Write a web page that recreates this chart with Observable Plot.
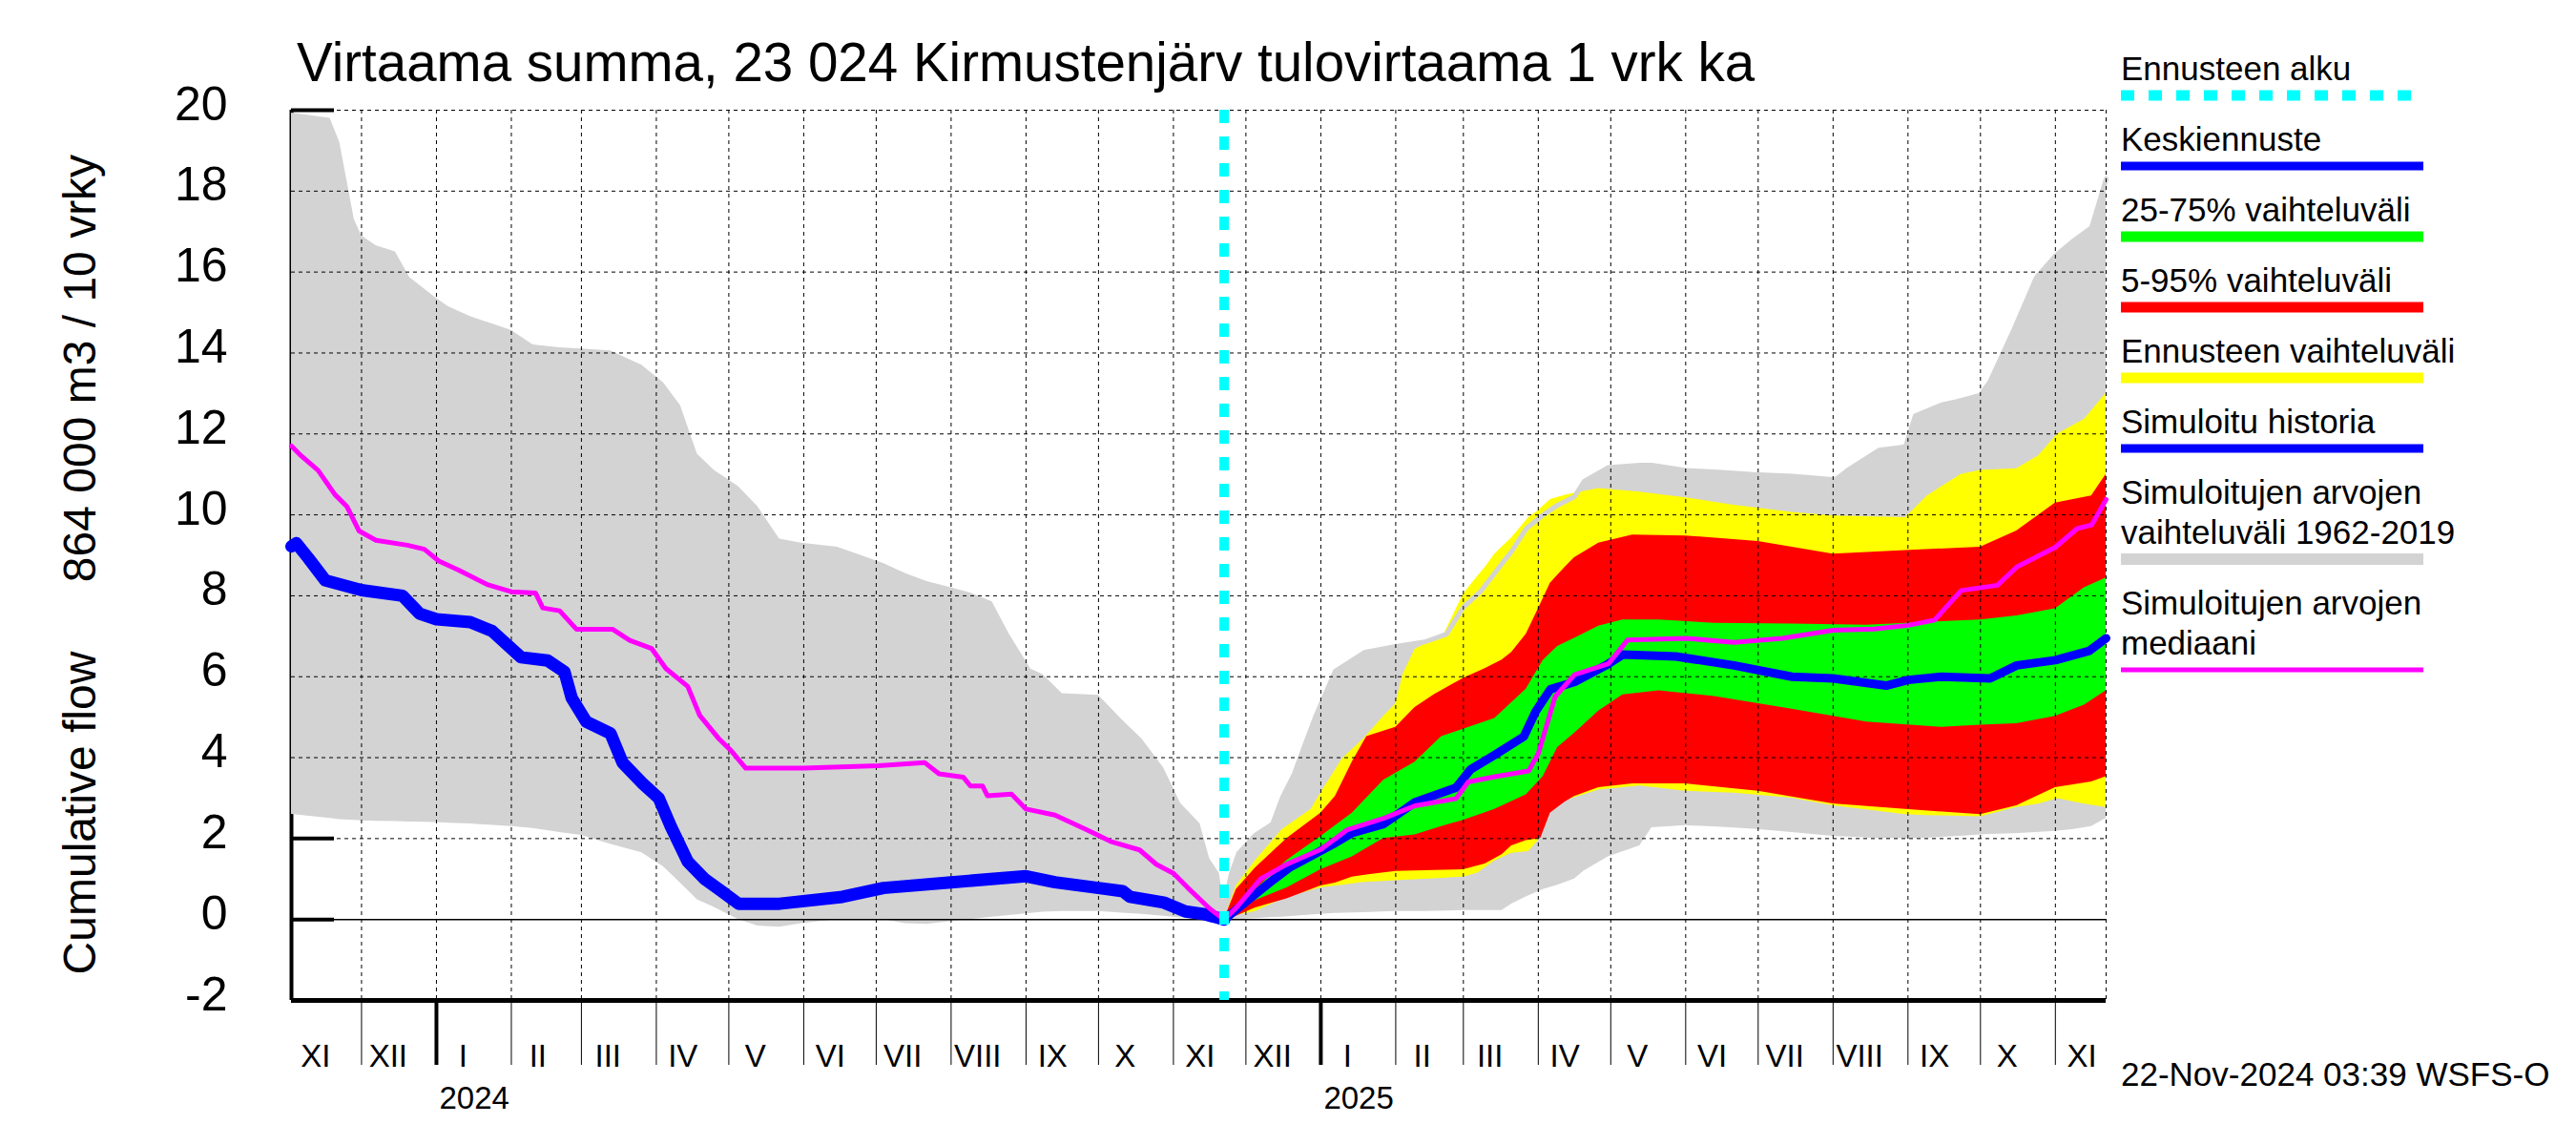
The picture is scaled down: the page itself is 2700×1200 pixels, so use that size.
<!DOCTYPE html>
<html><head><meta charset="utf-8">
<script src="https://cdn.jsdelivr.net/npm/d3@7"></script>
<script src="https://cdn.jsdelivr.net/npm/@observablehq/plot@0.6"></script>
<style>html,body{margin:0;padding:0;background:#fff}svg{display:block}</style>
</head><body><div id="chart"></div>
<script>
// ---------- DATA ----------
const domainStart = "2023-11-02";
const domainEnd = "2025-11-22";
const forecastStart = "2024-11-22";

// Simulated range 1962-2019: [date, min, max]
const greyBand = [
 ["2023-11-02",2.6,19.93],["2023-11-18",2.5,19.8],["2023-11-22",2.47,19.2],["2023-11-28",2.45,17.3],
 ["2023-12-01",2.44,16.9],["2023-12-07",2.43,16.65],["2023-12-15",2.42,16.5],["2023-12-21",2.41,15.86],
 ["2024-01-01",2.4,15.35],["2024-01-06",2.38,15.14],["2024-01-15",2.36,14.9],["2024-02-01",2.3,14.56],
 ["2024-02-10",2.25,14.2],["2024-02-21",2.15,14.13],["2024-03-01",2.08,14.1],["2024-03-13",1.86,14.05],
 ["2024-03-26",1.65,13.7],["2024-04-04",1.3,13.26],["2024-04-11",0.9,12.7],["2024-04-18",0.49,11.5],
 ["2024-04-25",0.3,11.1],["2024-05-05",0.0,10.7],["2024-05-13",-0.16,10.2],["2024-05-22",-0.19,9.4],
 ["2024-05-31",-0.1,9.3],["2024-06-15",0.0,9.2],["2024-07-04",0.0,8.8],["2024-07-13",-0.1,8.55],
 ["2024-07-22",-0.12,8.35],["2024-08-01",-0.05,8.2],["2024-08-09",0.0,8.07],["2024-08-18",0.06,7.85],
 ["2024-08-25",0.1,7.06],["2024-09-03",0.15,6.19],["2024-09-08",0.18,6.05],["2024-09-16",0.2,5.58],
 ["2024-10-01",0.2,5.54],["2024-10-11",0.16,4.92],["2024-10-19",0.13,4.46],["2024-10-28",0.08,3.74],
 ["2024-11-04",0.04,2.87],["2024-11-12",0.02,2.37],["2024-11-16",0.0,1.5],["2024-11-20",-0.02,1.14],
 ["2024-11-22",-0.05,0.35],
 ["2024-11-25",-0.03,1.14],["2024-11-28",0.0,1.64],["2024-12-05",0.02,2.09],["2024-12-12",0.05,2.36],
 ["2024-12-16",0.06,3.0],["2024-12-21",0.08,3.6],["2024-12-25",0.1,4.25],["2024-12-30",0.12,5.04],
 ["2025-01-07",0.15,6.14],["2025-01-19",0.17,6.6],["2025-02-01",0.2,6.75],["2025-02-13",0.2,6.86],
 ["2025-02-22",0.21,7.05],["2025-03-01",0.22,7.72],["2025-03-08",0.22,8.1],["2025-03-17",0.22,8.8],
 ["2025-03-21",0.38,9.1],["2025-03-27",0.56,9.66],["2025-04-03",0.74,10.0],["2025-04-09",0.85,10.24],
 ["2025-04-16",1.0,10.45],["2025-04-20",1.2,10.83],["2025-04-30",1.55,11.17],["2025-05-13",1.82,11.23],
 ["2025-05-18",2.27,11.23],["2025-06-01",2.32,11.1],["2025-06-16",2.28,11.05],["2025-06-29",2.23,11.0],
 ["2025-07-15",2.15,10.96],["2025-08-02",2.05,10.87],["2025-08-07",2.04,11.1],["2025-08-20",2.0,11.6],
 ["2025-08-31",2.0,11.68],["2025-09-04",2.0,12.45],["2025-09-15",2.03,12.72],["2025-09-21",2.05,12.8],
 ["2025-10-01",2.09,12.96],["2025-10-05",2.1,13.3],["2025-10-15",2.12,14.6],["2025-10-24",2.15,15.85],
 ["2025-11-01",2.18,16.4],["2025-11-08",2.22,16.75],["2025-11-16",2.3,17.1],["2025-11-22",2.5,18.3]
];

// Forecast range (yellow): [date, min, max]
const yellowBand = [
 ["2024-11-22",0,0],["2024-11-27",0.1,0.83],["2024-12-05",0.2,1.46],["2024-12-16",0.5,2.22],
 ["2024-12-28",0.72,2.72],["2025-01-01",0.78,3.13],["2025-01-10",0.85,3.98],["2025-01-19",0.92,4.48],
 ["2025-01-27",0.94,5.02],["2025-02-01",0.96,5.33],["2025-02-04",0.97,6.05],["2025-02-09",0.98,6.68],
 ["2025-02-21",1.02,7.05],["2025-03-01",1.05,8.04],["2025-03-07",1.15,8.49],["2025-03-10",1.28,8.7],
 ["2025-03-14",1.45,9.03],["2025-03-21",1.64,9.43],["2025-03-28",1.68,9.93],["2025-04-01",1.95,10.1],
 ["2025-04-06",2.72,10.38],["2025-04-13",2.95,10.5],["2025-04-26",3.2,10.65],["2025-05-13",3.3,10.56],
 ["2025-06-01",3.17,10.42],["2025-06-21",3.12,10.24],["2025-07-15",3.0,10.06],["2025-08-01",2.81,9.97],
 ["2025-08-31",2.59,9.93],["2025-09-09",2.57,10.47],["2025-09-15",2.56,10.7],["2025-09-23",2.55,11.0],
 ["2025-10-01",2.54,11.1],["2025-10-16",2.77,11.14],["2025-10-25",2.85,11.46],["2025-11-02",2.99,12.0],
 ["2025-11-13",2.85,12.36],["2025-11-22",2.77,13.0]
];

// 5-95 % range (red): [date, p5, p95]
const redBand = [
 ["2024-11-22",0,0],["2024-11-27",0.08,0.74],["2024-12-05",0.29,1.28],["2024-12-18",0.51,2.0],
 ["2025-01-01",0.83,2.63],["2025-01-07",0.9,3.04],["2025-01-14",1.05,3.89],["2025-01-20",1.1,4.52],
 ["2025-02-01",1.19,4.75],["2025-02-09",1.2,5.24],["2025-02-17",1.21,5.56],["2025-03-01",1.23,5.96],
 ["2025-03-10",1.37,6.2],["2025-03-17",1.6,6.41],["2025-03-21",1.82,6.6],["2025-03-27",1.95,7.05],
 ["2025-04-02",2.0,7.8],["2025-04-06",2.63,8.31],["2025-04-12",2.9,8.7],["2025-04-16",3.04,8.94],
 ["2025-04-26",3.26,9.3],["2025-05-10",3.35,9.5],["2025-06-01",3.35,9.48],["2025-07-01",3.17,9.34],
 ["2025-08-01",2.86,9.03],["2025-08-31",2.72,9.12],["2025-10-01",2.59,9.2],["2025-10-16",2.81,9.6],
 ["2025-11-01",3.26,10.29],["2025-11-16",3.4,10.47],["2025-11-22",3.53,11.0]
];

// 25-75 % range (green): [date, p25, p75]
const greenBand = [
 ["2024-11-22",0,0],["2024-12-05",0.47,0.74],["2024-12-18",0.78,1.46],["2025-01-01",1.23,2.05],
 ["2025-01-14",1.55,2.63],["2025-01-27",2.0,3.44],["2025-02-09",2.09,3.89],["2025-02-20",2.3,4.52],
 ["2025-03-01",2.45,4.7],["2025-03-14",2.72,4.97],["2025-03-27",3.08,5.69],["2025-04-03",3.53,6.4],
 ["2025-04-09",4.25,6.75],["2025-04-16",4.6,6.95],["2025-04-26",5.15,7.25],["2025-05-06",5.55,7.4],
 ["2025-05-21",5.65,7.4],["2025-06-13",5.51,7.32],["2025-07-15",5.2,7.3],["2025-08-15",4.88,7.27],
 ["2025-09-15",4.75,7.36],["2025-10-01",4.8,7.4],["2025-10-16",4.84,7.5],["2025-11-01",5.02,7.68],
 ["2025-11-13",5.3,8.2],["2025-11-22",5.65,8.44]
];

// Simulated history (blue)
const blueHistory = [
 ["2023-11-02",9.22],["2023-11-04",9.3],["2023-11-09",8.93],["2023-11-16",8.38],["2023-12-01",8.14],
 ["2023-12-18",8.0],["2023-12-25",7.56],["2024-01-01",7.42],["2024-01-15",7.35],["2024-01-24",7.13],
 ["2024-02-05",6.48],["2024-02-16",6.4],["2024-02-23",6.12],["2024-02-26",5.47],["2024-03-03",4.89],
 ["2024-03-13",4.6],["2024-03-18",3.88],["2024-03-26",3.38],["2024-04-02",3.0],["2024-04-07",2.3],
 ["2024-04-14",1.43],["2024-04-21",1.0],["2024-04-28",0.7],["2024-05-05",0.39],["2024-05-22",0.39],
 ["2024-06-17",0.56],["2024-07-04",0.78],["2024-08-01",0.92],["2024-09-01",1.07],["2024-09-13",0.92],
 ["2024-10-01",0.78],["2024-10-11",0.7],["2024-10-14",0.56],["2024-10-28",0.42],["2024-11-06",0.2],
 ["2024-11-14",0.13],["2024-11-22",0]
];

// Mean forecast (blue)
const blueForecast = [
 ["2024-11-22",0],["2024-12-02",0.49],["2024-12-11",0.92],["2024-12-19",1.28],["2024-12-28",1.57],
 ["2025-01-06",1.86],["2025-01-14",2.14],["2025-01-27",2.36],["2025-02-09",2.9],["2025-02-26",3.26],
 ["2025-03-04",3.71],["2025-03-14",4.07],["2025-03-26",4.52],["2025-03-31",5.15],["2025-04-06",5.69],
 ["2025-04-16",5.87],["2025-04-29",6.28],["2025-05-06",6.55],["2025-05-28",6.5],["2025-06-21",6.28],
 ["2025-07-15",6.0],["2025-08-01",5.96],["2025-08-23",5.78],["2025-09-01",5.92],["2025-09-15",6.0],
 ["2025-10-05",5.96],["2025-10-16",6.28],["2025-11-01",6.41],["2025-11-15",6.64],["2025-11-22",6.95]
];

// Median of simulated values (magenta)
const magentaMedian = [
 ["2023-11-02",11.7],["2023-11-06",11.46],["2023-11-13",11.1],["2023-11-20",10.5],["2023-11-25",10.2],
 ["2023-11-30",9.6],["2023-12-07",9.37],["2023-12-20",9.25],["2023-12-27",9.15],["2024-01-02",8.86],
 ["2024-01-10",8.64],["2024-01-22",8.28],["2024-02-01",8.1],["2024-02-11",8.07],["2024-02-14",7.7],
 ["2024-02-21",7.63],["2024-02-28",7.17],["2024-03-14",7.17],["2024-03-21",6.9],["2024-03-30",6.7],
 ["2024-04-05",6.2],["2024-04-14",5.76],["2024-04-19",5.04],["2024-04-27",4.46],["2024-05-02",4.17],
 ["2024-05-08",3.74],["2024-06-01",3.74],["2024-07-02",3.8],["2024-07-21",3.88],["2024-07-27",3.6],
 ["2024-08-06",3.52],["2024-08-09",3.3],["2024-08-14",3.3],["2024-08-16",3.06],["2024-08-26",3.1],
 ["2024-09-01",2.73],["2024-09-13",2.58],["2024-09-26",2.22],["2024-10-06",1.93],["2024-10-18",1.72],
 ["2024-10-25",1.36],["2024-11-01",1.14],["2024-11-07",0.78],["2024-11-16",0.27],["2024-11-22",0],
 ["2024-11-27",0.29],["2024-12-07",1.0],["2024-12-18",1.37],["2025-01-01",1.73],["2025-01-12",2.22],
 ["2025-01-27",2.5],["2025-02-09",2.81],["2025-02-26",2.99],["2025-03-03",3.4],["2025-03-14",3.53],
 ["2025-03-28",3.67],["2025-04-01",4.1],["2025-04-08",5.51],["2025-04-16",6.05],["2025-04-30",6.32],
 ["2025-05-08",6.91],["2025-06-01",6.95],["2025-06-21",6.85],["2025-07-11",6.95],["2025-08-01",7.15],
 ["2025-08-18",7.18],["2025-09-01",7.27],["2025-09-12",7.4],["2025-09-23",8.13],["2025-10-08",8.26],
 ["2025-10-16",8.71],["2025-11-01",9.2],["2025-11-10",9.66],["2025-11-16",9.75],["2025-11-22",10.38]
];

const yTicks = [-2, 0, 2, 4, 6, 8, 10, 12, 14, 16, 18, 20];
const romanMonths = ["I","II","III","IV","V","VI","VII","VIII","IX","X","XI","XII"];
const titleText = "Virtaama summa, 23 024 Kirmustenjärv tulovirtaama 1 vrk ka";
const yTitleTop = "864 000 m3 / 10 vrky";
const yTitleBottom = "Cumulative flow";
const stampText = "22-Nov-2024 03:39 WSFS-O";
const legendItems = [
 {lines: ["Ennusteen alku"], color: "#00ffff", width: 11, dash: "14,15"},
 {lines: ["Keskiennuste"], color: "#0000ff", width: 9},
 {lines: ["25-75% vaihteluväli"], color: "#00ff00", width: 11},
 {lines: ["5-95% vaihteluväli"], color: "#ff0000", width: 11},
 {lines: ["Ennusteen vaihteluväli"], color: "#ffff00", width: 11},
 {lines: ["Simuloitu historia"], color: "#0000ff", width: 9},
 {lines: ["Simuloitujen arvojen", "vaihteluväli 1962-2019"], color: "#d3d3d3", width: 12},
 {lines: ["Simuloitujen arvojen", "mediaani"], color: "#ff00ff", width: 5}
];

// ---------- CHART ----------
const P = s => new Date(s + "T00:00:00Z");
const x0 = P(domainStart), x1 = P(domainEnd), xf = P(forecastStart);
const monthStarts = d3.utcMonth.range(d3.utcMonth.ceil(x0), x1);
const yearStarts = d3.utcYear.range(d3.utcYear.ceil(x0), x1);
const monthLabelPos = d3.utcMonth.range(d3.utcMonth.floor(x0), x1).map(d => d3.utcDay.offset(d, 11));
const gridYTicks = yTicks.filter(v => v !== 0 && v !== -2);
const font = "'Liberation Sans', Arial, Helvetica, sans-serif";
const greyForecast = greyBand.filter(d => P(d[0]) >= xf);

const band = (data, fill) => Plot.areaY(data, {x: d => P(d[0]), y1: d => d[1], y2: d => d[2], fill, curve: "linear"});
const line = (data, stroke, strokeWidth) => Plot.line(data, {x: d => P(d[0]), y: d => d[1], stroke, strokeWidth, strokeLinejoin: "round", strokeLinecap: "round"});

const chart = Plot.plot({
  width: 2700, height: 1200,
  marginLeft: 305, marginRight: 493, marginTop: 115, marginBottom: 152,
  x: {type: "utc", domain: [x0, x1]},
  y: {domain: [-2, 20]},
  style: {fontFamily: font, background: "white", color: "black"},
  marks: [
    Plot.axisY({ticks: yTicks, tickSize: -45, strokeWidth: 4, tickFormat: () => "", label: null}),
    Plot.ruleX([x0], {stroke: "black", strokeWidth: 4}),
    band(greyBand, "#d3d3d3"),
    band(yellowBand, "#ffff00"),
    Plot.line(greyForecast, {x: d => P(d[0]), y: d => d[2], stroke: "#d3d3d3", strokeWidth: 5}),
    band(redBand, "#ff0000"),
    band(greenBand, "#00ff00"),
    Plot.gridX({ticks: [...monthStarts, x1], stroke: "black", strokeOpacity: 1, strokeWidth: 1, strokeDasharray: "4,4"}),
    Plot.gridY({ticks: gridYTicks, stroke: "black", strokeOpacity: 1, strokeWidth: 1, strokeDasharray: "4,4"}),
    Plot.ruleY([0], {stroke: "black", strokeWidth: 1.5}),
    Plot.ruleY([-2], {stroke: "black", strokeWidth: 5}),
    line(blueHistory, "#0000ff", 13),
    line(blueForecast, "#0000ff", 9),
    line(magentaMedian, "#ff00ff", 5),
    Plot.ruleX([xf], {stroke: "#00ffff", strokeWidth: 10, strokeDasharray: "14,14"}),
    Plot.axisY({ticks: yTicks, tickSize: 0, tickPadding: 67, fontSize: 50, dy: -6, tickFormat: d => String(d), label: null}),
    Plot.axisX({ticks: monthStarts, tickSize: 68, strokeWidth: 1, tickFormat: () => "", label: null}),
    Plot.axisX({ticks: yearStarts, tickSize: 68, strokeWidth: 4, tickFormat: () => "", label: null}),
    Plot.text(monthLabelPos, {x: d => d, text: d => romanMonths[d.getUTCMonth()], frameAnchor: "bottom", lineAnchor: "top", dy: 46, fontSize: 33, fill: "black"}),
    Plot.text(yearStarts, {x: d => d, text: d => String(d.getUTCFullYear()), frameAnchor: "bottom", lineAnchor: "top", textAnchor: "start", dx: 3, dy: 90, fontSize: 33, fill: "black"})
  ]
});

const svg = d3.select(chart);
svg.append("text").attr("x", 311).attr("y", 85).attr("text-anchor", "start").attr("font-size", 56.5)
  .attr("font-family", font).attr("fill", "black").text(titleText);
svg.append("text").attr("transform", "translate(100,386) rotate(-90)").attr("text-anchor", "middle")
  .attr("font-size", 48).attr("font-family", font).attr("fill", "black").text(yTitleTop);
svg.append("text").attr("transform", "translate(100,852) rotate(-90)").attr("text-anchor", "middle")
  .attr("font-size", 48).attr("font-family", font).attr("fill", "black").text(yTitleBottom);
svg.append("text").attr("x", 2223).attr("y", 1138).attr("text-anchor", "start").attr("font-size", 35)
  .attr("font-family", font).attr("fill", "black").text(stampText);

// legend
const lg = svg.append("g").attr("font-family", font).attr("font-size", 35).attr("fill", "black")
  .attr("text-anchor", "start");
let yPos = 84;
const lineGap = 42;
legendItems.forEach(item => {
  item.lines.forEach((t, i) => {
    lg.append("text").attr("x", 2223).attr("y", yPos + i * lineGap).attr("text-anchor", "start").text(t);
  });
  const ly = yPos + (item.lines.length - 1) * lineGap + 16;
  const l = lg.append("line").attr("x1", 2223).attr("x2", 2540).attr("y1", ly).attr("y2", ly)
    .attr("stroke", item.color).attr("stroke-width", item.width);
  if (item.dash) l.attr("stroke-dasharray", item.dash);
  yPos = ly + 58;
});

document.getElementById("chart").appendChild(chart);
</script>
</body></html>
